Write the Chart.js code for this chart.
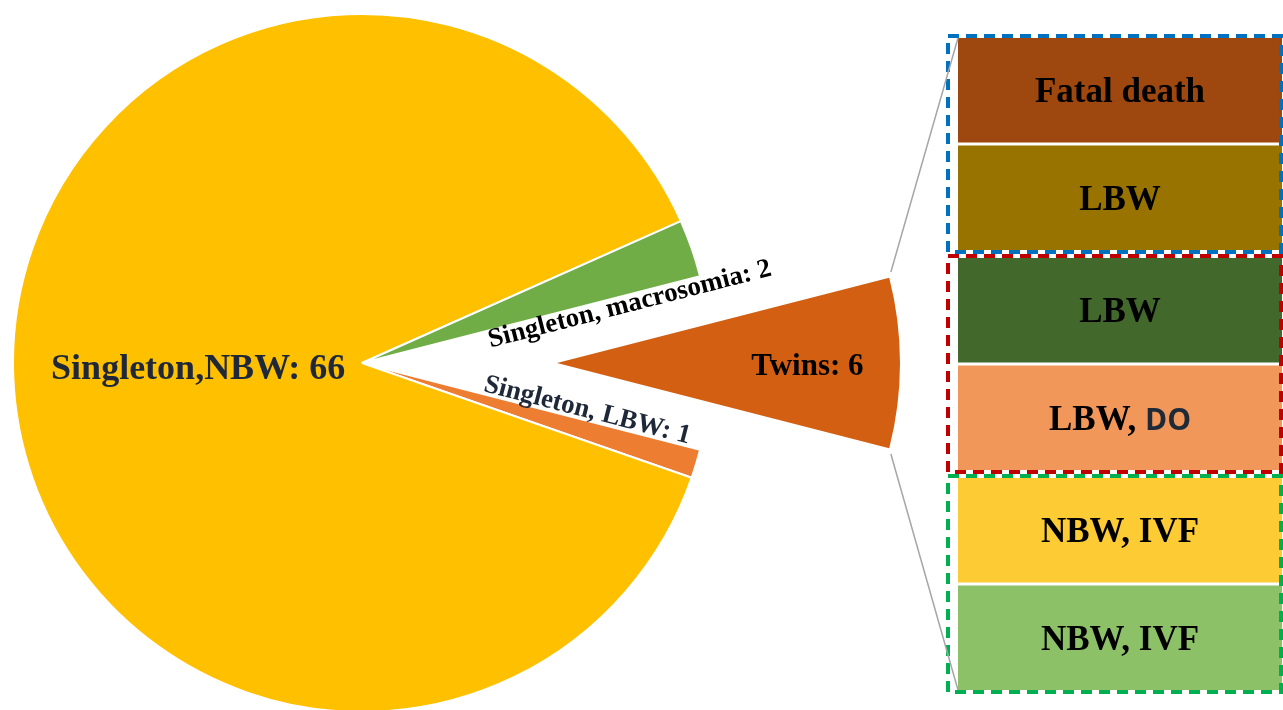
<!DOCTYPE html>
<html>
<head>
<meta charset="utf-8">
<script src="https://cdn.jsdelivr.net/npm/chart.js@4.4.1/dist/chart.umd.min.js"></script>
<style>
  html, body { margin: 0; padding: 0; background: #fff; }
  #wrap { position: relative; width: 1283px; height: 710px; overflow: hidden; }
  #wrap canvas { position: absolute; left: 0; top: 0; }
</style>
</head>
<body>
<div id="wrap">
  <canvas id="pieMain" width="1283" height="710"></canvas>
  <canvas id="pieTwins" width="1283" height="710"></canvas>
  <canvas id="twinBars" width="1283" height="710"></canvas>
</div>
<script>
// pie data (twins slice first so it sits on the right)
const pieLabels = ['Twins', 'Singleton, LBW', 'Singleton,NBW', 'Singleton, macrosomia'];
const pieValues = [6, 1, 66, 2];
const pieColors = ['#D35F13', '#ED7D31', '#FFC000', '#70AD47'];

// the 6 twin babies, one row group per pair
const pairLabels = ['Pair 1', 'Pair 2', 'Pair 3'];
const firstTwinOutcome = ['Fatal death', 'LBW', 'NBW, IVF'];
const secondTwinOutcome = ['LBW', 'LBW, DO', 'NBW, IVF'];
const firstTwinValues = [1, 1, 1];
const secondTwinValues = [1, 1, 1];
const firstTwinColors = ['#9E470E', '#43682B', '#FDCB34'];
const secondTwinColors = ['#997300', '#F1975A', '#8CC168'];
const pairFrameColors = ['#0070C0', '#C00000', '#00B050'];

const serif = "'Liberation Serif', 'Times New Roman', serif";
const sans = "'Open Sans', 'Liberation Sans', sans-serif";
const sansTerms = ['DO'];

const total = pieValues.reduce((a, b) => a + b, 0);
// centre the twins slice on 3 o'clock
const pieRotation = 90 - (pieValues[0] / total) * 180;
const clear = 'rgba(0,0,0,0)';

// labels of the main pie
const mainLabels = {
    id: 'mainLabels',
    afterDatasetsDraw(chart) {
        const ctx = chart.ctx;
        const arcs = chart.getDatasetMeta(0).data;
        ctx.save();

        // big slice, centred
        const big = arcs[2];
        const mid = (big.startAngle + big.endAngle) / 2;
        const r = big.outerRadius * 0.47;
        ctx.font = 'bold 36px ' + serif;
        ctx.fillStyle = '#1F2838';
        ctx.textAlign = 'center';
        ctx.textBaseline = 'alphabetic';
        ctx.fillText(pieLabels[2] + ': ' + pieValues[2], big.x + Math.cos(mid) * r, big.y + Math.sin(mid) * r + 9);

        // macrosomia: under the edge of its slice
        const mac = arcs[3];
        ctx.save();
        ctx.translate(mac.x + Math.cos(mac.endAngle) * 274, mac.y + Math.sin(mac.endAngle) * 274);
        ctx.rotate(mac.endAngle);
        ctx.font = 'bold 27px ' + serif;
        ctx.fillStyle = '#000';
        ctx.fillText(pieLabels[3] + ': ' + pieValues[3], 0, 17);
        ctx.restore();

        // LBW: on top of the edge of its slice
        const lbw = arcs[1];
        ctx.save();
        ctx.translate(lbw.x + Math.cos(lbw.startAngle) * 230, lbw.y + Math.sin(lbw.startAngle) * 230);
        ctx.rotate(lbw.startAngle);
        ctx.font = 'bold 27px ' + serif;
        ctx.fillStyle = '#1F2838';
        ctx.fillText(pieLabels[1] + ': ' + pieValues[1], 0, -3);
        ctx.restore();

        ctx.restore();
    }
};

// label of the exploded slice
const twinsLabel = {
    id: 'twinsLabel',
    afterDatasetsDraw(chart) {
        const ctx = chart.ctx;
        const arc = chart.getDatasetMeta(0).data[0];
        const mid = (arc.startAngle + arc.endAngle) / 2;
        const r = arc.outerRadius * 0.73;
        ctx.save();
        ctx.font = 'bold 31px ' + serif;
        ctx.fillStyle = '#000';
        ctx.textAlign = 'center';
        ctx.fillText(pieLabels[0] + ': ' + pieValues[0], arc.x + Math.cos(mid) * r, arc.y + Math.sin(mid) * r + 12);
        ctx.restore();
    }
};

const mainPie = new Chart(document.getElementById('pieMain'), {
    type: 'pie',
    data: {
        labels: pieLabels,
        datasets: [{
            data: pieValues,
            backgroundColor: pieColors.map((c, i) => i === 0 ? clear : c),
            borderColor: pieColors.map((c, i) => i === 0 ? clear : '#fff'),
            borderWidth: 2,
            clip: false
        }]
    },
    options: {
        responsive: false,
        animation: false,
        events: [],
        rotation: pieRotation,
        radius: 349,
        layout: { padding: { left: 0, right: 559, top: 16, bottom: 0 } },
        plugins: { legend: { display: false }, tooltip: { enabled: false } }
    },
    plugins: [mainLabels]
});

// same pie, only the twins slice, moved out to the right
const twinsPie = new Chart(document.getElementById('pieTwins'), {
    type: 'pie',
    data: {
        labels: pieLabels,
        datasets: [{
            data: pieValues,
            backgroundColor: pieColors.map((c, i) => i === 0 ? c : clear),
            borderWidth: 0,
            clip: false
        }]
    },
    options: {
        responsive: false,
        animation: false,
        events: [],
        rotation: pieRotation,
        radius: 343,
        layout: { padding: { left: 390, right: 559, top: 16, bottom: 0 } },
        plugins: { legend: { display: false }, tooltip: { enabled: false } }
    },
    plugins: [twinsLabel]
});

function drawOutcome(ctx, text, cx, cy) {
    const parts = text.split(', ');
    const runs = parts.map((p, i) => {
        const isSans = sansTerms.includes(p);
        return {
            t: p + (i < parts.length - 1 ? ', ' : ''),
            font: isSans ? 'bold 30px ' + sans : 'bold 35px ' + serif,
            color: isSans ? '#1F2A38' : '#000'
        };
    });
    let w = 0;
    runs.forEach(r => { ctx.font = r.font; r.w = ctx.measureText(r.t).width; w += r.w; });
    let x = cx - w / 2;
    ctx.textAlign = 'left';
    ctx.textBaseline = 'alphabetic';
    runs.forEach(r => {
        ctx.font = r.font;
        ctx.fillStyle = r.color;
        ctx.fillText(r.t, x, cy + 12);
        x += r.w;
    });
}

// dashed frames, outcome texts, connector lines
const pairFrames = {
    id: 'pairFrames',
    afterDatasetsDraw(chart) {
        const ctx = chart.ctx;
        const area = chart.chartArea;
        const yScale = chart.scales.y;
        const band = (area.bottom - area.top) / pairLabels.length;
        ctx.save();

        chart.data.datasets.forEach((ds, d) => {
            chart.getDatasetMeta(d).data.forEach((bar, i) => {
                drawOutcome(ctx, ds.outcome[i], (bar.x + bar.base) / 2, bar.y);
            });
        });

        ctx.lineWidth = 4;
        ctx.setLineDash([11, 7]);
        pairLabels.forEach((p, i) => {
            const c = yScale.getPixelForValue(i);
            ctx.strokeStyle = pairFrameColors[i];
            ctx.strokeRect(area.left - 10, c - band / 2 + 2, area.right - 1 - (area.left - 10), band - 4);
        });

        // lines from the twins slice to the boxes
        const arc = twinsPie.getDatasetMeta(0).data[0];
        const firstBar = chart.getDatasetMeta(0).data[0];
        const lastBar = chart.getDatasetMeta(1).data[pairLabels.length - 1];
        const ends = [
            [arc.startAngle, firstBar.base, firstBar.y - firstBar.height / 2],
            [arc.endAngle, lastBar.base, lastBar.y + lastBar.height / 2]
        ];
        ctx.setLineDash([]);
        ctx.strokeStyle = '#A6A6A6';
        ctx.lineWidth = 1.5;
        ends.forEach(([a, ex, ey]) => {
            const sx = arc.x + Math.cos(a) * arc.outerRadius;
            const sy = arc.y + Math.sin(a) * arc.outerRadius;
            const len = Math.hypot(ex - sx, ey - sy);
            ctx.beginPath();
            ctx.moveTo(sx + (ex - sx) / len * 6, sy + (ey - sy) / len * 6);
            ctx.lineTo(ex, ey);
            ctx.stroke();
        });

        ctx.restore();
    }
};

const twinBars = new Chart(document.getElementById('twinBars'), {
    type: 'bar',
    data: {
        labels: pairLabels,
        datasets: [
            { label: 'First twin', data: firstTwinValues, backgroundColor: firstTwinColors, outcome: firstTwinOutcome,
              categoryPercentage: 0.977, barPercentage: 0.972 },
            { label: 'Second twin', data: secondTwinValues, backgroundColor: secondTwinColors, outcome: secondTwinOutcome,
              categoryPercentage: 0.977, barPercentage: 0.972 }
        ]
    },
    options: {
        indexAxis: 'y',
        responsive: false,
        animation: false,
        events: [],
        layout: { padding: { left: 958, right: 1, top: 34, bottom: 16 } },
        scales: {
            x: { display: false, min: 0, max: 1 },
            y: { display: false }
        },
        plugins: { legend: { display: false }, tooltip: { enabled: false } }
    },
    plugins: [pairFrames]
});
</script>
</body>
</html>
